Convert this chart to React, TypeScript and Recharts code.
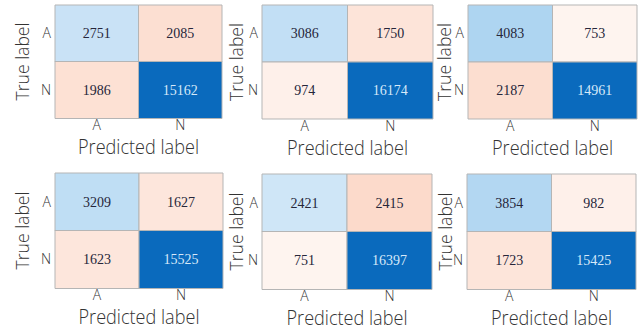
import { Bar, BarChart, Cell, LabelList, XAxis, YAxis } from "recharts";

const classes = ["A", "N"];

// counts per run, row-major: [A→A, A→N, N→A, N→N]
const run1 = [2751, 2085, 1986, 15162];
const run2 = [3086, 1750, 974, 16174];
const run3 = [4083, 753, 2187, 14961];
const run4 = [3209, 1627, 1623, 15525];
const run5 = [2421, 2415, 751, 16397];
const run6 = [3854, 982, 1723, 15425];

const sans = "'Open Sans', 'DejaVu Sans', sans-serif";
const serif = "'Liberation Serif', 'Times New Roman', serif";
const AXIS_W = 60;
const AXIS_H = 46;

// plot box placement for each run, plus where the rotated title sits
const panels = [
  { counts: run1, left: 55, top: 5, w: 167, h: 113, titleGap: 26 },
  { counts: run2, left: 262, top: 5, w: 171, h: 114, titleGap: 19.5 },
  { counts: run3, left: 468, top: 5, w: 169, h: 114, titleGap: 17.5 },
  { counts: run4, left: 55, top: 173, w: 168, h: 115, titleGap: 26.5 },
  { counts: run5, left: 262, top: 174, w: 170, h: 115, titleGap: 19 },
  { counts: run6, left: 467, top: 174, w: 169, h: 115, titleGap: 15.5 },
];

type Stop = [number, [number, number, number]];
const blueStops: Stop[] = [
  [0, [255, 255, 255]],
  [5000, [156, 203, 238]],
  [14000, [10, 106, 189]],
];
const peachStops: Stop[] = [
  [0, [255, 255, 255]],
  [2500, [252, 217, 201]],
];

function ramp(stops: Stop[], v: number) {
  if (v <= stops[0][0]) return `rgb(${stops[0][1].join(",")})`;
  for (let i = 1; i < stops.length; i++) {
    const [v0, c0] = stops[i - 1];
    const [v1, c1] = stops[i];
    if (v <= v1) {
      const t = (v - v0) / (v1 - v0);
      const c = c0.map((x, k) => Math.round(x + (c1[k] - x) * t));
      return `rgb(${c.join(",")})`;
    }
  }
  return `rgb(${stops[stops.length - 1][1].join(",")})`;
}

const cellColor = (v: number, diagonal: boolean) => (diagonal ? ramp(blueStops, v) : ramp(peachStops, v));

function renderCount(props: any) {
  const { x, y, width, height, value } = props;
  return (
    <text
      x={x + width / 2}
      y={y + height / 2}
      textAnchor="middle"
      dominantBaseline="central"
      fontFamily={serif}
      fontSize={14}
      fill={value > 10000 ? "#d7e9f9" : "#26263a"}
    >
      {value}
    </text>
  );
}

const tickStyle = { fontSize: 14, fill: "#333", fontFamily: sans, fontWeight: 300 };

function Matrix({ counts, left, top, w, h, titleGap }: (typeof panels)[number]) {
  const rows = classes.map((label, i) => ({
    label,
    colA: 1,
    colN: 1,
    vA: counts[i * 2],
    vN: counts[i * 2 + 1],
  }));
  return (
    <div style={{ position: "absolute", left: left - AXIS_W, top: top - 1 }}>
      <BarChart
        width={AXIS_W + w + 1}
        height={h + AXIS_H + 1}
        data={rows}
        layout="vertical"
        margin={{ top: 1, right: 1, bottom: 0, left: 0 }}
        barCategoryGap={0}
      >
        <XAxis
          type="number"
          domain={[0, 2]}
          ticks={[0.5, 1.5]}
          tickFormatter={(v) => classes[Math.floor(v)]}
          axisLine={false}
          tickLine={false}
          tickSize={0}
          tickMargin={2}
          height={AXIS_H}
          tick={tickStyle}
          label={{
            content: ({ viewBox }: any) => (
              <text
                x={viewBox.x + viewBox.width / 2}
                y={viewBox.y + 35.5}
                textAnchor="middle"
                fontFamily={sans}
                fontWeight={300}
                fontSize={20}
                fill="#333"
                textLength={121}
                lengthAdjust="spacingAndGlyphs"
              >
                Predicted label
              </text>
            ),
          }}
        />
        <YAxis
          type="category"
          dataKey="label"
          width={AXIS_W}
          axisLine={false}
          tickLine={false}
          tickSize={0}
          tickMargin={4}
          tick={tickStyle}
          label={{
            content: ({ viewBox }: any) => {
              const tx = viewBox.x + viewBox.width - titleGap;
              const ty = viewBox.y + viewBox.height / 2;
              return (
                <text
                  x={tx}
                  y={ty}
                  transform={`rotate(-90, ${tx}, ${ty})`}
                  textAnchor="middle"
                  fontFamily={sans}
                  fontWeight={300}
                  fontSize={18}
                  fill="#333"
                  textLength={78}
                  lengthAdjust="spacingAndGlyphs"
                >
                  True label
                </text>
              );
            },
          }}
        />
        <Bar dataKey="colA" stackId="m" stroke="#b5b5b5" strokeWidth={1} isAnimationActive={false}>
          {rows.map((r, i) => (
            <Cell key={r.label} fill={cellColor(r.vA, i === 0)} />
          ))}
          <LabelList dataKey="vA" content={renderCount} />
        </Bar>
        <Bar dataKey="colN" stackId="m" stroke="#b5b5b5" strokeWidth={1} isAnimationActive={false}>
          {rows.map((r, i) => (
            <Cell key={r.label} fill={cellColor(r.vN, i === 1)} />
          ))}
          <LabelList dataKey="vN" content={renderCount} />
        </Bar>
      </BarChart>
    </div>
  );
}

export default function App() {
  return (
    <div style={{ position: "absolute", left: 0, top: 0, width: 641, height: 330, background: "#fff" }}>
      {panels.map((p, i) => (
        <Matrix key={i} {...p} />
      ))}
    </div>
  );
}
